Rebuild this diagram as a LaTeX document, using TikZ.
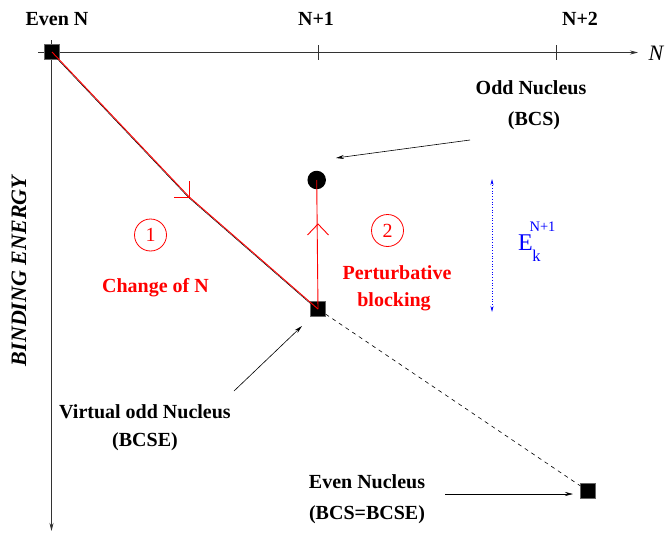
\documentclass[tikz,border=0pt]{standalone}
\usepackage{fontspec}
\setmainfont{Liberation Serif}
\usetikzlibrary{arrows.meta}
\begin{document}
\begin{tikzpicture}[x=1pt,y=-1pt,
  lbl/.style={font=\fontsize{20}{24}\selectfont\bfseries, inner sep=0pt},
  rlbl/.style={lbl, text=red},
  sq/.style={draw=black!60, fill=black, minimum size=15pt, inner sep=0pt},
  axisline/.style={draw=black!80, line width=0.8pt},
  pointer/.style={draw=black, line width=0.6pt, -{Stealth[length=8pt,width=4pt]}},
  num/.style={circle, draw=red, text=red, minimum size=32pt, inner sep=0pt, line width=0.8pt, font=\fontsize{20}{24}\selectfont},
  redline/.style={draw=red, line width=0.9pt}
]
\useasboundingbox (0,0) rectangle (670,538);

% axes
\coordinate (xs) at (38,52.5);
\coordinate (xe) at (638,52.5);
\coordinate (ys) at (51.5,40);
\coordinate (ye) at (51.5,531);
\draw[axisline, -{Stealth[length=8pt,width=4pt]}] (xs) -- (xe);
\draw[axisline, -{Stealth[length=8pt,width=4pt]}] (ys) -- (ye);
\coordinate (t1a) at (318,45); \coordinate (t1b) at (318,60);
\coordinate (t2a) at (556,45); \coordinate (t2b) at (556,60);
\draw[axisline, line width=0.6pt] (t1a) -- (t1b);
\draw[axisline, line width=0.6pt] (t2a) -- (t2b);

\node[lbl] (lEven) at (57,19) {Even N};
\node[lbl] (lN1) at (316,19) {N+1};
\node[lbl] (lN2) at (580,19) {N+2};
\node[inner sep=0pt, font=\fontsize{22}{26}\selectfont\itshape] (lN) at (656,53) {N};
\node[inner sep=0pt, rotate=90, font=\fontsize{22}{26}\selectfont\bfseries\itshape] (lBE) at (19,271) {BINDING ENERGY};

% points
\node[sq] (even) at (52,52) {};
\node[sq] (virt) at (318,309) {};
\node[sq] (even2) at (588,491) {};
\node[circle, fill=black, minimum size=18.5pt, inner sep=0pt] (odd) at (316.7,180) {};

% red path: change of N
\coordinate (c1) at (189.3,197);
\coordinate (c1a) at (174,197);
\coordinate (c1b) at (189.3,181);
\draw[black, line width=0.5pt] ([shift={(-0.6pt,-0.6pt)}]even.center) -- ([shift={(-0.6pt,-0.6pt)}]c1) -- ([shift={(-0.6pt,-0.6pt)}]virt.center);
\draw[redline] (even.center) -- (c1) -- (virt.center);
\draw[redline] (c1a) -- (c1) -- (c1b);

% red path: perturbative blocking
\draw[redline] (virt.center) -- (odd.center);
\coordinate (c2) at (318,224);
\coordinate (c2a) at (307.5,235);
\coordinate (c2b) at (328.5,235);
\draw[redline] (c2a) -- (c2) -- (c2b);

% dashed continuation
\draw[black, line width=0.6pt, dash pattern=on 4pt off 4pt] (virt) -- (even2);

% circled numbers and labels
\node[num] (one) at (150.5,235) {1};
\node[num] (two) at (387.5,230.5) {2};
\node[rlbl] (change) at (155.5,288) {Change of N};
\node[rlbl] (pert) at (397,273) {Perturbative};
\node[rlbl] (block) at (394,302) {blocking};

% energy gap
\coordinate (ga) at (492,179);
\coordinate (gb) at (492,312);
\draw[blue, line width=0.7pt, dotted, {Stealth[length=6pt,width=3pt]}-{Stealth[length=6pt,width=3pt]}] (ga) -- (gb);
\node[inner sep=0pt, text=blue, font=\fontsize{24}{28}\selectfont] (E) at (525.5,243) {E};
\node[inner sep=0pt, text=blue, font=\fontsize{14.5}{16}\selectfont] (Esup) at (542.5,227) {N+1};
\node[inner sep=0pt, text=blue, font=\fontsize{16.5}{18}\selectfont] (Esub) at (536.5,256) {k};

% annotations
\node[lbl] (oddA) at (531,88) {Odd Nucleus};
\node[lbl] (oddB) at (534,121) {(BCS)};
\coordinate (p1s) at (470,140);
\coordinate (p1e) at (336,158);
\draw[pointer] (p1s) -- (p1e);

\node[lbl] (virA) at (145,412) {Virtual odd Nucleus};
\node[lbl] (virB) at (145,442) {(BCSE)};
\coordinate (p2s) at (234,391);
\coordinate (p2e) at (302,326);
\draw[pointer] (p2s) -- (p2e);

\node[lbl] (evA) at (367,482) {Even Nucleus};
\node[lbl] (evB) at (367,515) {(BCS=BCSE)};
\coordinate (p3s) at (445,494);
\coordinate (p3e) at (573,494);
\draw[pointer] (p3s) -- (p3e);
\end{tikzpicture}
\end{document}
